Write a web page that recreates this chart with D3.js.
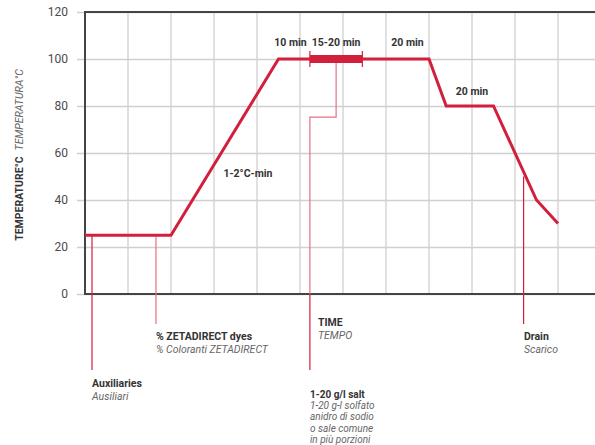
<!DOCTYPE html>
<html lang="it">
<head>
  <meta charset="UTF-8">
  <title>Temperatura / tempo</title>
  <script src="https://cdn.jsdelivr.net/npm/d3@7"></script>
  <style>
    body { margin: 0; background: #fff; font-family: Roboto, "DejaVu Sans", sans-serif; }
  </style>
</head>
<body>

  <div id="container"></div>

  <script>
    // Dati
    const yTicks = [0, 20, 40, 60, 80, 100, 120];
    const xGrid = [1, 2, 3, 4, 5, 6, 7, 8, 9, 10, 11, 12];

    // profilo temperatura (tempo in unita di griglia, °C)
    const profileTime = [0, 2, 4.5, 8, 8.4, 9.5, 10.5, 11];
    const profileTemp = [25, 25, 100, 100, 80, 80, 40, 30];

    // tratto spesso 15-20 min
    const holdTime = [5.23, 6.45];
    const holdTemp = 100;

    // etichette durata
    const durationText = ["10 min", "15-20 min", "20 min", "20 min", "1-2°C-min"];
    const durationTime = [4.78, 5.84, 7.5, 9.0, 3.79];
    const durationTemp = [105.7, 105.7, 105.7, 84.8, 50.0];

    // annotazioni sotto l'asse
    const noteBold = ["Auxiliaries", "% ZETADIRECT dyes", "TIME", "1-20 g/l salt", "Drain"];
    const noteItalic = [
      ["Ausiliari"],
      ["% Coloranti ZETADIRECT"],
      ["TEMPO"],
      ["1-20 g-l solfato", "anidro di sodio", "o sale comune", "in più porzioni"],
      ["Scarico"]
    ];

    // Dimensioni
    const width = 595;
    const height = 445;
    const marginTop = 12;
    const marginLeft = 85;
    const plotBottom = 294;
    const red = "#d21f3c";

    const x = d3.scaleLinear()
      .domain([0, 12])
      .range([marginLeft, marginLeft + 12 * 43]);

    const y = d3.scaleLinear()
      .domain([0, 120])
      .range([plotBottom, marginTop]);

    const svg = d3.select("#container")
      .append("svg")
      .attr("width", width)
      .attr("height", height)
      .attr("viewBox", [0, 0, width, height]);

    // griglia verticale
    svg.append("g")
      .attr("stroke", "#d0d0d0")
      .attr("stroke-width", 1.3)
      .selectAll("line")
      .data(xGrid)
      .join("line")
      .attr("x1", d => x(d))
      .attr("x2", d => x(d))
      .attr("y1", y(120))
      .attr("y2", y(0));

    // asse y con griglia orizzontale
    const yAxis = svg.append("g")
      .attr("transform", `translate(${marginLeft},0)`)
      .call(d3.axisLeft(y)
        .tickValues(yTicks)
        .tickSize(-(width - marginLeft))
        .tickPadding(17));
    yAxis.select(".domain").remove();
    yAxis.selectAll(".tick line")
      .attr("stroke", "#cfcfcf")
      .attr("stroke-width", 1.3)
      .attr("x1", -8);
    yAxis.selectAll(".tick text")
      .attr("fill", "#4a4a4a")
      .attr("font-size", 12)
      .attr("font-family", "Roboto, sans-serif");

    // cornice: sinistra, sopra, sotto
    svg.append("path")
      .attr("fill", "none")
      .attr("stroke", "#444")
      .attr("stroke-width", 2)
      .attr("d", `M${width},${y(120)}H${x(0)}V${y(0)}H${width}`);

    // linee annotazioni (sotto la curva)
    const ann = svg.append("g")
      .attr("fill", "none")
      .attr("stroke-width", 1.2);

    const dropTime = [0.163, 1.65, 10.2];
    const dropTemp = [25, 25, 50];
    const dropEnd = [370, 324, 324];
    const dropColor = [red, "#e47186", red];
    dropTime.forEach((t, i) => {
      ann.append("line")
        .attr("stroke", dropColor[i])
        .attr("x1", x(t)).attr("x2", x(t))
        .attr("y1", y(dropTemp[i])).attr("y2", dropEnd[i]);
    });

    // linea sale con gomito
    ann.append("path")
      .attr("stroke", "#e47186")
      .attr("d", `M${x(5.84)},${y(holdTemp)}V${y(75.3)}H${x(5.23)}V${y(0)}`);
    ann.append("line")
      .attr("stroke", red)
      .attr("x1", x(5.23)).attr("x2", x(5.23))
      .attr("y1", y(0)).attr("y2", 370);

    // curva temperatura
    const line = d3.line()
      .x(d => x(d[0]))
      .y(d => y(d[1]));

    svg.append("path")
      .datum(profileTime.map((t, i) => [t, profileTemp[i]]))
      .attr("fill", "none")
      .attr("stroke", red)
      .attr("stroke-width", 3)
      .attr("stroke-linejoin", "miter")
      .attr("d", line);

    // tratto spesso
    svg.append("rect")
      .attr("x", x(holdTime[0]))
      .attr("y", y(holdTemp) - 4)
      .attr("width", x(holdTime[1]) - x(holdTime[0]))
      .attr("height", 8)
      .attr("fill", red);
    svg.append("g")
      .attr("stroke", red)
      .attr("stroke-width", 1.2)
      .selectAll("line")
      .data(holdTime)
      .join("line")
      .attr("x1", d => x(d)).attr("x2", d => x(d))
      .attr("y1", y(holdTemp) - 8).attr("y2", y(holdTemp) + 8);

    // etichette durata
    svg.append("g")
      .attr("font-size", 10.5)
      .attr("font-weight", "bold")
      .attr("fill", "#333")
      .attr("text-anchor", "middle")
      .selectAll("text")
      .data(durationText)
      .join("text")
      .attr("x", (d, i) => x(durationTime[i]))
      .attr("y", (d, i) => y(durationTemp[i]))
      .text(d => d);

    // titolo asse y
    const yt = svg.append("text")
      .attr("transform", `translate(23,${y(60) + 2}) rotate(-90)`)
      .attr("text-anchor", "middle")
      .attr("font-size", 10.5)
      .attr("fill", "#333");
    yt.append("tspan").attr("font-weight", "bold").text("TEMPERATURE°C");
    yt.append("tspan").attr("font-style", "italic").attr("fill", "#666")
      .attr("dx", 6).text("TEMPERATURA°C");

    // testi annotazioni
    const noteX = [92, 156, 318, 310, 524];
    const noteY = [387, 340, 326, 398, 340];
    noteBold.forEach((b, i) => {
      const fs = i === 3 ? 10 : 10.5;
      const step = i === 3 ? 11.2 : 13;
      const g = svg.append("g").attr("font-size", fs);
      g.append("text")
        .attr("x", noteX[i]).attr("y", noteY[i])
        .attr("font-weight", "bold").attr("fill", "#333")
        .text(b);
      noteItalic[i].forEach((s, j) => {
        g.append("text")
          .attr("x", noteX[i]).attr("y", noteY[i] + step * (j + 1))
          .attr("font-style", "italic").attr("fill", "#666")
          .text(s);
      });
    });
  </script>

</body>
</html>
